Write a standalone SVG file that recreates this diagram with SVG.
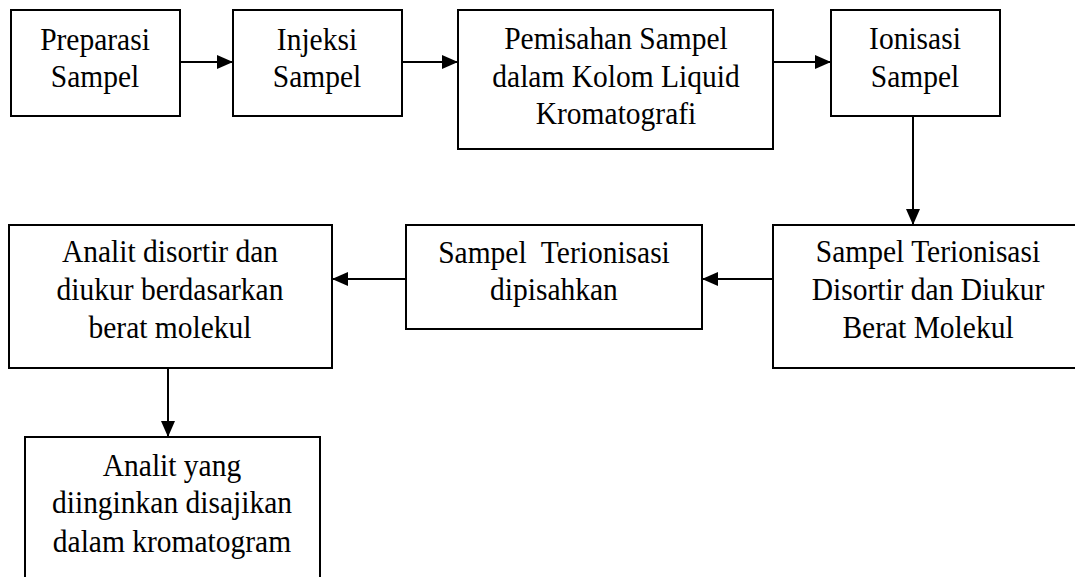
<svg xmlns="http://www.w3.org/2000/svg" width="1075" height="577" viewBox="0 0 1075 577">
<style>
.box{fill:#fff;stroke:#000;stroke-width:2}
.lbl{font-family:"Liberation Serif","Times New Roman",serif;font-size:29.5px;fill:#000;text-anchor:middle;white-space:pre}
.conn{stroke:#000;stroke-width:2;fill:none;marker-end:url(#ah)}
</style>
<defs>
<marker id="ah" markerUnits="userSpaceOnUse" markerWidth="16" markerHeight="14" refX="16" refY="7" orient="auto">
<path d="M0,0 L16,7 L0,14 Z" fill="#000"/>
</marker>
</defs>
<rect width="1075" height="577" fill="#fff"/>
<g id="connectors">
<line class="conn" x1="180" y1="62" x2="233" y2="62"/>
<line class="conn" x1="402" y1="62" x2="458" y2="62"/>
<line class="conn" x1="773" y1="62" x2="831" y2="62"/>
<line class="conn" x1="913" y1="116" x2="913" y2="225"/>
<line class="conn" x1="773" y1="279" x2="702" y2="279"/>
<line class="conn" x1="406" y1="279" x2="332" y2="279"/>
<line class="conn" x1="168" y1="368" x2="168" y2="437"/>
</g>
<g id="n1">
<rect class="box" x="11" y="10" width="169" height="106"/>
<text class="lbl" x="95" y="50" transform="matrix(1 0 0 1.1 0 -5)">Preparasi</text>
<text class="lbl" x="95" y="87" transform="matrix(1 0 0 1.1 0 -8.7)">Sampel</text>
</g>
<g id="n2">
<rect class="box" x="233" y="10" width="169" height="106"/>
<text class="lbl" x="317" y="50" transform="matrix(1 0 0 1.1 0 -5)">Injeksi</text>
<text class="lbl" x="317" y="87" transform="matrix(1 0 0 1.1 0 -8.7)">Sampel</text>
</g>
<g id="n3">
<rect class="box" x="458" y="10" width="315" height="139"/>
<text class="lbl" x="616" y="49" transform="matrix(1 0 0 1.1 0 -4.9)">Pemisahan Sampel</text>
<text class="lbl" x="616" y="87" transform="matrix(1 0 0 1.1 0 -8.7)">dalam Kolom Liquid</text>
<text class="lbl" x="616" y="124" transform="matrix(1 0 0 1.1 0 -12.4)">Kromatografi</text>
</g>
<g id="n4">
<rect class="box" x="831" y="10" width="169" height="106"/>
<text class="lbl" x="915" y="49" transform="matrix(1 0 0 1.1 0 -4.9)">Ionisasi</text>
<text class="lbl" x="915" y="87" transform="matrix(1 0 0 1.1 0 -8.7)">Sampel</text>
</g>
<g id="n5">
<rect class="box" x="773" y="225" width="310" height="143"/>
<text class="lbl" x="928" y="262" transform="matrix(1 0 0 1.1 0 -26.2)">Sampel Terionisasi</text>
<text class="lbl" x="928" y="300" transform="matrix(1 0 0 1.1 0 -30)">Disortir dan Diukur</text>
<text class="lbl" x="928" y="338" transform="matrix(1 0 0 1.1 0 -33.8)">Berat Molekul</text>
</g>
<g id="n6">
<rect class="box" x="406" y="225" width="296" height="104"/>
<text class="lbl" x="554" y="263" transform="matrix(1 0 0 1.1 0 -26.3)" xml:space="preserve">Sampel  Terionisasi</text>
<text class="lbl" x="554" y="300" transform="matrix(1 0 0 1.1 0 -30)">dipisahkan</text>
</g>
<g id="n7">
<rect class="box" x="9" y="225" width="323" height="143"/>
<text class="lbl" x="170" y="262" transform="matrix(1 0 0 1.1 0 -26.2)">Analit disortir dan</text>
<text class="lbl" x="170" y="300" transform="matrix(1 0 0 1.1 0 -30)">diukur berdasarkan</text>
<text class="lbl" x="170" y="338" transform="matrix(1 0 0 1.1 0 -33.8)">berat molekul</text>
</g>
<g id="n8">
<rect class="box" x="25" y="437" width="295" height="150"/>
<text class="lbl" x="172" y="476" transform="matrix(1 0 0 1.1 0 -47.6)">Analit yang</text>
<text class="lbl" x="172" y="513" transform="matrix(1 0 0 1.1 0 -51.3)">diinginkan disajikan</text>
<text class="lbl" x="172" y="552" transform="matrix(1 0 0 1.1 0 -55.2)">dalam kromatogram</text>
</g>
</svg>
